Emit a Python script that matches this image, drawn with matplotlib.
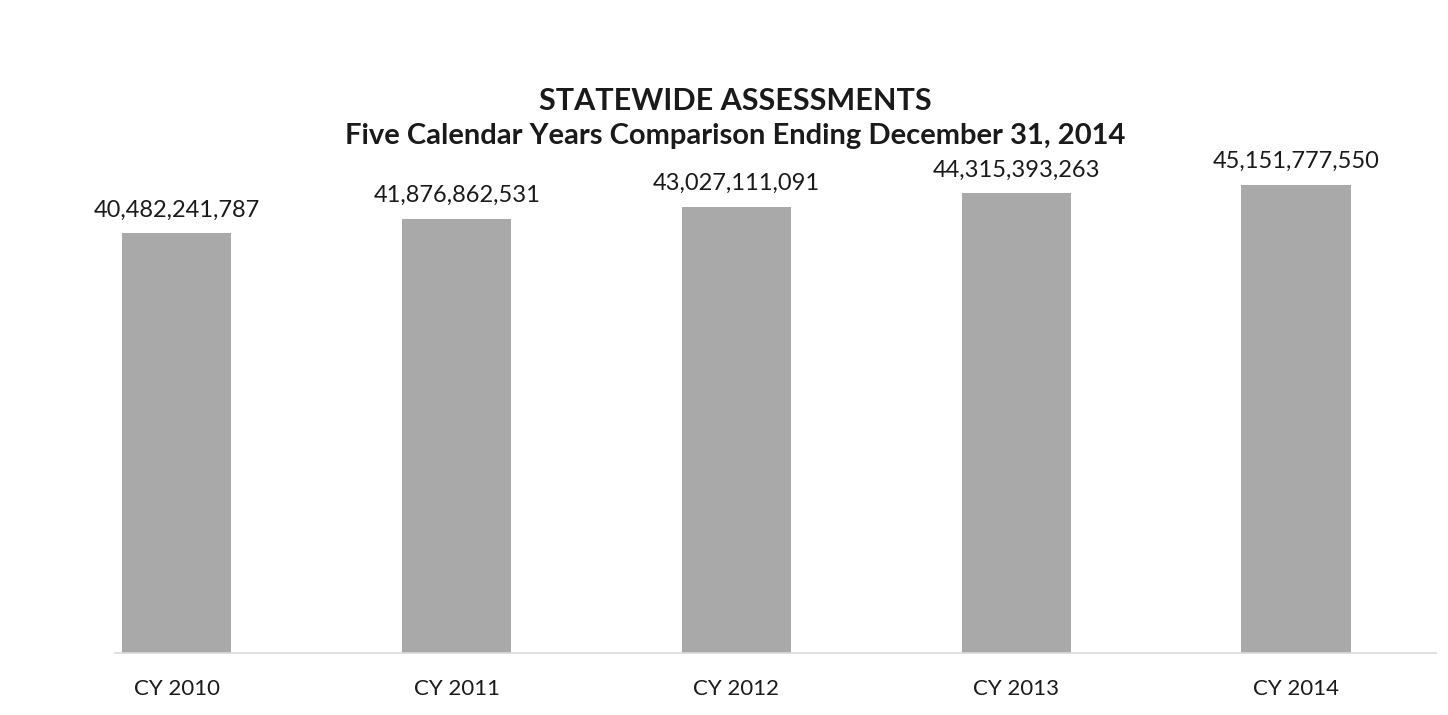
import numpy as np
import matplotlib.pyplot as plt

# Statewide assessments by calendar year
years = ['CY 2010', 'CY 2011', 'CY 2012', 'CY 2013', 'CY 2014']
assessments = [40482241787, 41876862531, 43027111091, 44315393263, 45151777550]

plt.rcParams['font.family'] = ['Lato', 'DejaVu Sans']

fig = plt.figure(figsize=(14.48, 7.15), dpi=100)
ax = fig.add_axes([0.0256, 0.0867, 0.966, 0.7252])

pos = np.arange(len(years))
ax.bar(pos, assessments, width=0.39, color='#a9a9a9')

for i, v in enumerate(assessments):
    ax.annotate(f'{v:,}', (i, v), xytext=(0, 9), textcoords='offset points',
                ha='center', va='bottom', size=17, color='#1a1a1a')

ax.set_xlim(-0.5, len(years) - 0.5)
ax.set_ylim(0, 50e9)
ax.set_xticks(pos)
ax.set_xticklabels(years, size=16, color='#1a1a1a')
ax.tick_params(axis='x', length=0, pad=19)
ax.set_yticks([])

for s in ['top', 'left', 'right']:
    ax.spines[s].set_visible(False)
ax.spines['bottom'].set_color('#d9d9d9')
ax.spines['bottom'].set_linewidth(1.2)
ax.spines['bottom'].set_bounds(-0.22, len(years) - 0.5)

fig.text(0.508, 0.859, 'STATEWIDE ASSESSMENTS', ha='center', va='center',
         size=22, weight='bold', color='#1a1a1a')
fig.text(0.508, 0.810, 'Five Calendar Years Comparison Ending December 31, 2014',
         ha='center', va='center', size=21, weight='bold', color='#1a1a1a')

fig.savefig('out.png', dpi=100)
